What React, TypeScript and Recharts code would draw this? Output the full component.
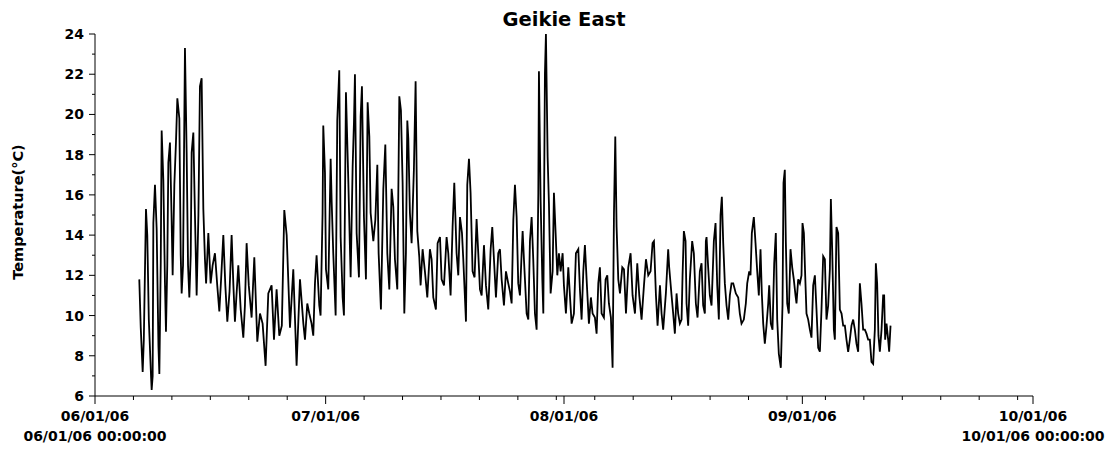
import { LineChart, Line, XAxis, YAxis, Customized } from "recharts";

// time in days since 06/01/06 00:00, temperature in °C
const days = [
  5.76, 5.95, 6.2, 6.35, 6.63, 6.8, 7.0, 7.3, 7.37, 7.5, 7.59, 7.8, 8.02, 8.25, 8.37, 8.55, 8.67, 8.89, 9.1, 9.23,
  9.4, 9.54, 9.75, 9.95, 10.1, 10.32, 10.53, 10.71, 10.97, 11.15, 11.27, 11.45, 11.7, 11.92, 12.1, 12.27, 12.45, 12.57, 12.79, 13.0,
  13.22, 13.45, 13.65, 13.87, 14.09, 14.3, 14.45, 14.74, 15.04, 15.3, 15.6, 15.9, 16.17, 16.4, 16.69, 16.95, 17.21, 17.5, 17.77, 18.0,
  18.2, 18.4, 18.64, 18.95, 19.29, 19.5, 19.72, 20.0, 20.37, 20.72, 21.11, 21.46, 21.8, 22.19, 22.54, 22.97, 23.28, 23.62, 23.97, 24.3,
  24.62, 24.93, 25.36, 25.79, 26.22,
  26.66, 27.1, 27.31, 27.61, 27.87, 28.17, 28.39, 28.61, 28.82, 29.17, 29.34, 29.6, 29.69, 29.91, 30.04, 30.34, 30.65, 30.78, 30.99, 31.3,
  31.51, 31.77, 31.95, 32.21, 32.38, 32.64, 32.94, 33.25, 33.51, 33.68, 33.81, 34.03, 34.33, 34.55, 34.72, 34.98, 35.24, 35.46, 35.68, 35.85,
  36.2, 36.46, 36.72, 36.89, 37.19, 37.5, 37.76, 38.02, 38.28, 38.58, 38.8, 39.01, 39.32, 39.58, 39.79, 40.01, 40.23, 40.44, 40.62, 40.75,
  40.96, 41.18, 41.48, 41.7, 41.92, 42.18, 42.35, 42.61, 42.91, 43.22, 43.56, 43.78, 44.0, 44.34, 44.56, 44.87, 45.08, 45.39, 45.73, 45.95,
  46.25, 46.51, 46.73, 47.03, 47.25, 47.47, 47.73, 47.9, 48.25, 48.42, 48.64, 48.85, 49.11, 49.37, 49.63, 49.85, 50.07,
  50.29, 50.59, 50.85, 51.15, 51.46, 51.67, 51.89, 52.15, 52.45, 52.67, 52.89, 53.19, 53.45, 53.75, 53.97, 54.19, 54.41, 54.62, 54.84, 55.05,
  55.27, 55.49, 55.62, 55.79, 56.14, 56.36, 56.57, 56.79, 57.0, 57.22, 57.44, 57.66, 57.74, 57.96, 58.18, 58.31, 58.52, 58.65, 58.87, 59.04,
  59.26, 59.52, 59.69, 59.91, 60.13, 60.34, 60.56, 60.82, 60.99, 61.25, 61.56, 61.77, 61.99, 62.29, 62.55, 62.86, 63.07, 63.29, 63.51, 63.72,
  63.94, 64.24, 64.5, 64.72, 65.02, 65.24, 65.46, 65.67, 65.89, 66.19, 66.41, 66.63, 66.84, 67.1, 67.32, 67.5, 67.67, 67.84, 68.06, 68.28,
  68.58, 68.8, 69.06, 69.36, 69.66, 69.92, 70.23, 70.53, 70.79, 71.09, 71.4, 71.66, 71.96, 72.26, 72.52, 72.7, 72.96, 73.17,
  73.48, 73.69, 73.9, 74.25, 74.55, 74.68, 74.99, 75.2, 75.42, 75.64, 75.85, 76.07, 76.29, 76.42, 76.59, 76.81, 76.94, 77.15, 77.37, 77.67,
  77.89, 78.15, 78.37, 78.67, 78.89, 79.1, 79.32, 79.45, 79.54, 79.75, 79.97, 80.19, 80.49, 80.71, 80.93, 81.14, 81.36, 81.53, 81.71, 81.92,
  82.14, 82.36, 82.57, 82.79, 83.01, 83.35, 83.66, 83.87, 84.09, 84.39, 84.65, 84.83, 85.09, 85.26, 85.43, 85.69, 85.91, 86.13, 86.34, 86.56,
  86.73, 86.91, 87.12, 87.34, 87.56, 87.69, 87.9, 88.12, 88.34, 88.55, 88.73, 88.94, 89.2, 89.42, 89.55, 89.72, 89.85, 90.03, 90.24, 90.46,
  90.68, 90.89, 91.11, 91.24, 91.46, 91.68, 91.89, 92.02, 92.2, 92.37, 92.54, 92.76, 92.98, 93.19, 93.41, 93.63, 93.84, 94.06, 94.28, 94.49,
  94.71, 94.93, 95.14, 95.36, 95.58, 95.71, 95.88, 96.1, 96.23, 96.44, 96.66, 96.88, 97.1, 97.31, 97.53, 97.74, 97.96, 98.18, 98.39, 98.61,
  98.83, 99.04, 99.26, 99.48, 99.69, 99.91, 100.13, 100.34, 100.56, 100.78, 100.99, 101.21, 101.43, 101.56, 101.73, 101.9, 102.08, 102.3, 102.51, 102.64,
  102.77, 102.95, 103.16, 103.29, 103.47,
];

const temps = [
  11.8, 9.4, 7.2, 8.8, 15.3, 14.0, 9.8, 6.9, 6.3, 7.0, 14.6, 16.5, 14.3, 8.5, 7.1, 12.6, 19.2, 16.7, 11.6, 9.2,
  12.5, 17.6, 18.6, 15.1, 12.0, 16.5, 18.6, 20.8, 19.8, 13.0, 11.1, 12.5, 23.3, 18.1, 12.5, 10.9, 13.0, 18.1, 19.1, 15.0,
  11.0, 15.0, 21.4, 21.8, 15.3, 12.8, 11.6, 14.1, 11.6, 12.5, 13.1, 11.5, 10.2, 11.8, 14.0, 11.5, 9.7, 11.2, 14.0, 11.5,
  9.7, 11.0, 12.5, 10.3, 8.9, 10.5, 13.6, 11.5, 9.9, 12.9, 8.7, 10.1, 9.6, 7.5, 11.1, 11.5, 8.8, 11.3, 9.0, 9.5,
  15.25, 14.0, 9.4, 12.3, 7.5,
  11.8, 9.6, 8.8, 10.6, 10.1, 9.6, 9.0, 11.6, 13.0, 10.5, 10.0, 15.1, 19.45, 17.1, 12.3, 11.3, 17.8, 15.7, 13.1, 10.0,
  19.7, 22.2, 13.9, 10.9, 10.0, 21.1, 16.8, 11.9, 17.4, 19.6, 22.0, 14.1, 11.9, 19.9, 21.4, 14.9, 11.8, 20.6, 18.9, 15.1,
  13.7, 14.75, 17.5, 13.1, 10.3, 16.3, 18.5, 13.1, 11.3, 16.3, 15.4, 12.8, 11.3, 20.9, 20.2, 16.6, 10.1, 13.1, 19.7, 18.8,
  15.1, 13.6, 17.3, 21.65, 14.2, 12.9, 11.5, 13.3, 12.2, 10.9, 13.3, 12.8, 10.9, 10.3, 13.6, 13.9, 11.8, 11.5, 13.9, 13.1,
  11.0, 14.4, 16.6, 13.1, 12.0, 14.9, 14.1, 12.8, 9.7, 16.5, 17.8, 16.1, 12.2, 11.9, 14.8, 13.1, 11.3,
  11.0, 13.5, 11.5, 10.3, 13.3, 14.4, 12.8, 10.9, 13.1, 13.3, 11.8, 10.5, 12.2, 11.6, 11.2, 10.6, 14.75, 16.5, 14.9, 11.6,
  11.0, 13.1, 14.2, 12.8, 10.1, 9.8, 13.7, 14.9, 12.8, 10.1, 9.3, 16.1, 22.15, 15.7, 11.8, 10.1, 22.05, 24.0, 17.9, 15.6,
  11.1, 12.2, 16.1, 14.1, 12.0, 13.1, 12.2, 13.1, 11.5, 10.1, 12.4, 11.0, 9.6, 10.1, 13.1, 13.3, 11.3, 9.8, 12.2, 13.5,
  11.8, 9.6, 10.9, 10.1, 9.9, 9.1, 11.6, 12.4, 10.1, 9.9, 11.8, 12.0, 10.6, 9.9, 7.4, 15.1, 18.9, 14.4, 11.8, 11.1,
  12.4, 12.3, 10.1, 12.4, 13.1, 11.0, 10.1, 12.6, 11.0, 9.8, 11.5, 12.8, 12.0, 12.2, 13.6, 13.7, 11.0, 9.5,
  11.5, 10.1, 9.3, 11.1, 13.3, 12.4, 11.0, 10.1, 9.1, 11.1, 10.1, 9.6, 9.8, 12.0, 14.2, 13.7, 10.6, 9.5, 11.8, 13.7,
  13.1, 10.6, 9.9, 12.2, 12.6, 10.5, 10.1, 13.7, 13.9, 12.4, 11.0, 10.5, 13.7, 14.6, 11.5, 9.8, 15.0, 15.9, 13.6, 11.6,
  10.5, 9.8, 11.0, 11.6, 11.6, 11.1, 10.9, 10.1, 9.6, 9.8, 10.6, 11.6, 12.2, 12.0, 14.1, 14.9, 13.6, 12.2, 11.0, 13.3,
  11.1, 9.6, 8.6, 9.5, 10.6, 11.5, 9.6, 9.3, 12.6, 14.1, 9.8, 8.1, 7.4, 10.5, 16.6, 17.25, 13.7, 10.6, 10.1, 13.3,
  12.4, 11.8, 11.0, 10.6, 11.8, 11.6, 12.0, 14.6, 14.1, 12.0, 10.1, 9.8, 9.3, 8.9, 11.5, 12.0, 10.3, 8.4, 8.2, 10.3,
  12.95, 12.8, 9.8, 10.5, 12.3, 15.8, 13.3, 9.3, 8.8, 14.4, 14.1, 10.3, 10.1, 9.5, 9.5, 8.8, 8.2, 8.8, 9.5, 9.8,
  9.3, 8.6, 8.2, 11.6, 10.6, 9.3, 9.3, 9.1, 8.8, 8.8, 7.7, 7.6, 9.3, 12.6, 11.6, 9.0, 8.2, 9.3, 11.0, 11.0,
  8.8, 9.6, 8.8, 8.2, 9.5,
];

const monthTicks = [0, 30, 61, 92, 122];
const monthLabels = ["06/01/06", "07/01/06", "08/01/06", "09/01/06", "10/01/06"];
const minorDayTicks = [0, 5, 10, 15, 20, 25, 30, 35, 40, 45, 50, 55, 60, 65, 70, 75, 80, 85, 90, 95, 100, 105, 110, 115, 120];
const tempTicks = [6, 7, 8, 9, 10, 11, 12, 13, 14, 15, 16, 17, 18, 19, 20, 21, 22, 23, 24];

const data = days.map((d, i) => ({ day: d, temp: temps[i] }));
const xTicks = Array.from(new Set([...minorDayTicks, ...monthTicks])).sort((a, b) => a - b);

const FONT = "'DejaVu Sans', sans-serif";

function DateTick({ x, y, payload }: any) {
  const idx = monthTicks.indexOf(payload.value);
  const major = idx >= 0;
  const withTime = idx === 0 || idx === monthTicks.length - 1;
  return (
    <g>
      <line x1={x} y1={y} x2={x} y2={y + (major ? 8 : 4)} stroke="#000" strokeWidth={1} />
      {major && (
        <text x={x} y={y + 25} textAnchor="middle" fontFamily={FONT} fontWeight="bold" fontSize={14} fill="#000">
          {monthLabels[idx]}
        </text>
      )}
      {withTime && (
        <text x={x} y={y + 45} textAnchor="middle" fontFamily={FONT} fontWeight="bold" fontSize={14} fill="#000">
          {monthLabels[idx] + " 00:00:00"}
        </text>
      )}
    </g>
  );
}

function TempTick({ x, y, payload }: any) {
  const major = payload.value % 2 === 0;
  return (
    <g>
      <line x1={x - (major ? 6 : 3)} y1={y} x2={x} y2={y} stroke="#000" strokeWidth={1} />
      {major && (
        <text x={x - 11} y={y + 5} textAnchor="end" fontFamily={FONT} fontWeight="bold" fontSize={14} fill="#000">
          {payload.value}
        </text>
      )}
    </g>
  );
}

const Title = () => (
  <g>
    <text x={564} y={26} textAnchor="middle" fontFamily={FONT} fontWeight="bold" fontSize={19.5} fill="#000">
      Geikie East
    </text>
    <text x={23} y={212} transform="rotate(-90, 23, 212)" textAnchor="middle" fontFamily={FONT} fontWeight="bold" fontSize={14.5} fill="#000">
      Temperature(°C)
    </text>
  </g>
);

export default function App() {
  return (
    <div style={{ position: "absolute", left: 0, top: 0, background: "#fff" }}>
      <LineChart width={1111} height={450} data={data} margin={{ top: 34, right: 78, bottom: 0, left: 0 }}>
        <XAxis
          type="number"
          dataKey="day"
          domain={[0, 122]}
          ticks={xTicks}
          interval={0}
          allowDataOverflow
          height={54}
          tickSize={0}
          tickMargin={0}
          tickLine={false}
          axisLine={{ stroke: "#000", strokeWidth: 1 }}
          tick={<DateTick />}
        />
        <YAxis
          type="number"
          domain={[6, 24]}
          ticks={tempTicks}
          interval={0}
          allowDataOverflow
          width={95}
          tickSize={0}
          tickMargin={0}
          tickLine={false}
          axisLine={{ stroke: "#000", strokeWidth: 1 }}
          tick={<TempTick />}
        />
        <Line
          type="linear"
          dataKey="temp"
          stroke="#000"
          strokeWidth={1.8}
          dot={false}
          isAnimationActive={false}
        />
        <Customized component={Title} />
      </LineChart>
    </div>
  );
}
